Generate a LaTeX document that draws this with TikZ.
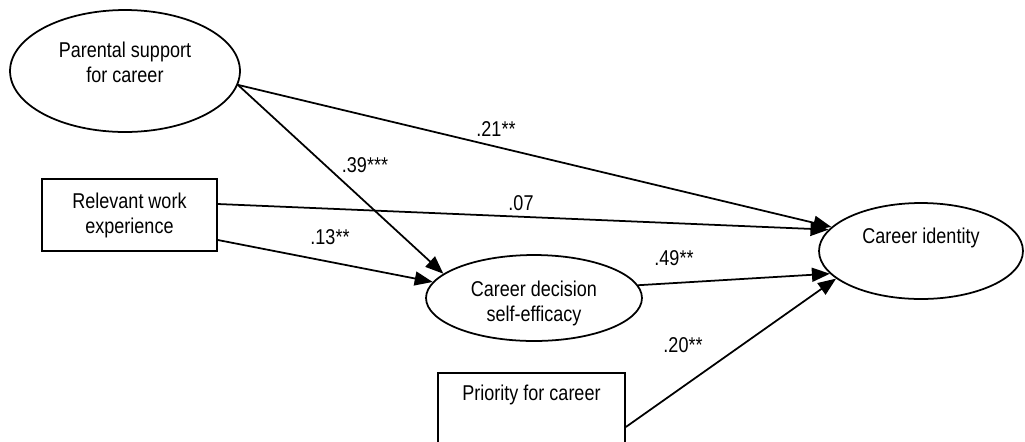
\documentclass[tikz,border=0pt]{standalone}
\usepackage{fontspec}
\setmainfont{Liberation Sans}[FakeStretch=0.84]
\usetikzlibrary{arrows.meta,positioning,shapes.geometric}
\tikzset{
  construct oval/.style={ellipse,draw=black,line width=1pt,inner sep=0pt,align=center},
  construct box/.style={rectangle,draw=black,line width=1pt,inner sep=0pt,align=center},
  construct text/.style={inner sep=0pt,align=center},
  path arrow/.style={-{Triangle[length=3.6mm,width=2.8mm]},line width=1pt,draw=black},
  path weight/.style={inner sep=0pt}
}

\begin{document}
\begin{tikzpicture}[x=0.02cm,y=-0.02cm,font=\fontsize{12.2}{14.2}\selectfont]
        \useasboundingbox (0,0) rectangle (1025,441);
        \clip (0,0) rectangle (1025,441);
        % constructs
        \node[construct oval,minimum width=4.6cm,minimum height=2.44cm] (parent) at (125,71) {};
        \node[construct text] (parent text) at (125,62) {Parental support\\for career};
        \node[construct box,minimum width=3.5cm,minimum height=1.44cm] (work) at (129.5,215) {Relevant work\\experience};
        \node[construct oval,minimum width=4.32cm,minimum height=1.72cm] (cdse) at (534,298) {};
        \node[construct text] (cdse text) at (534,303) {Career decision\\self-efficacy};
        \node[construct oval,minimum width=4.08cm,minimum height=1.92cm] (ident) at (921,251) {};
        \node[construct text] (ident text) at (921,238) {Career identity};
        \node[construct box,minimum width=3.74cm,minimum height=2cm,anchor=north] (prio) at (531.5,372) {};
        \node[construct text] (prio text) at (531.5,395) {Priority for career};
        % paths
        \draw[path arrow] (parent.-7) -- (ident.165);
        \draw[path arrow] (parent.-7) -- (cdse.165);
        \draw[path arrow] ([yshift=0.22cm]work.east) -- (ident.167);
        \draw[path arrow] ([yshift=-0.5cm]work.east) -- (cdse.171);
        \draw[path arrow] (cdse.7) -- (ident.194);
        \draw[path arrow] ([yshift=-1.1cm]prio.north east) -- (ident.198);
        % weights
        \node[path weight] (w21) at (496,129) {.21**};
        \node[path weight] (w39) at (365,165) {.39***};
        \node[path weight] (w07) at (521,203) {.07};
        \node[path weight] (w13) at (330,237) {.13**};
        \node[path weight] (w49) at (674,258) {.49**};
        \node[path weight] (w20) at (683,345) {.20**};
      \end{tikzpicture}
\end{document}
